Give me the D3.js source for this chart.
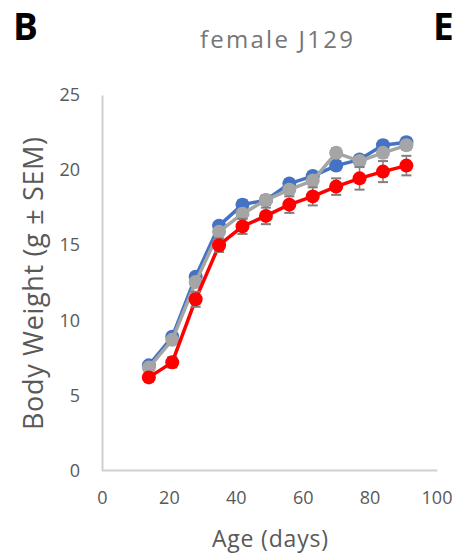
<!DOCTYPE html>
<html>
<head>
<meta charset="utf-8">
<script src="https://cdn.jsdelivr.net/npm/d3@7"></script>
<style>
  html, body { margin: 0; padding: 0; background: #fff; }
  svg { display: block; }
  text { font-family: "Open Sans", "Noto Sans", sans-serif; }
</style>
</head>
<body>
<svg id="chart" width="458" height="554"></svg>
<script>
// Age of measurement (days)
const days = [14, 21, 28, 35, 42, 49, 56, 63, 70, 77, 84, 91];

// Mean body weight per group (g)
const blueMean = [7.0, 8.9, 12.9, 16.3, 17.7, 18.0, 19.1, 19.6, 20.3, 20.7, 21.65, 21.85];
const grayMean = [6.85, 8.7, 12.55, 15.9, 17.1, 18.0, 18.7, 19.3, 21.15, 20.6, 21.15, 21.65];
const redMean  = [6.2, 7.2, 11.4, 15.0, 16.25, 16.95, 17.7, 18.25, 18.9, 19.45, 19.9, 20.3];

// Standard error of the mean per group (g)
const blueSem = [0.2, 0.2, 0.25, 0.25, 0.3, 0.3, 0.3, 0.3, 0.3, 0.3, 0.3, 0.3];
const graySem = [0.2, 0.2, 0.25, 0.25, 0.3, 0.3, 0.3, 0.3, 0.3, 0.3, 0.3, 0.3];
const redSem  = [0.25, 0.35, 0.5, 0.45, 0.5, 0.55, 0.55, 0.6, 0.55, 0.75, 0.7, 0.65];

// Axis ticks
const xTicks = [0, 20, 40, 60, 80, 100];
const yTicks = [0, 5, 10, 15, 20, 25];

const series = [
  { color: "#4472C4", mean: blueMean, sem: blueSem },
  { color: "#A5A5A5", mean: grayMean, sem: graySem },
  { color: "#FF0000", mean: redMean,  sem: redSem }
];

const svg = d3.select("#chart");

const x = d3.scaleLinear().domain([0, 100]).range([102, 436.5]);
const y = d3.scaleLinear().domain([0, 25]).range([470.5, 95]);

// Panel letters
svg.append("text").attr("x", 13).attr("y", 40)
  .attr("font-size", 37).attr("font-weight", 700).attr("fill", "#000").text("B");
svg.append("text").attr("x", 433).attr("y", 40)
  .attr("font-size", 37).attr("font-weight", 700).attr("fill", "#000").text("E");

// Title
svg.append("text").attr("x", 200).attr("y", 48)
  .attr("font-size", 24).attr("fill", "#767676")
  .attr("textLength", 153).attr("lengthAdjust", "spacing")
  .text("female J129");

// Axes
const xAxis = svg.append("g").attr("transform", `translate(0,${y(0)})`)
  .call(d3.axisBottom(x).tickValues(xTicks).tickSize(0).tickPadding(21));
const yAxis = svg.append("g").attr("transform", `translate(${x(0)},0)`)
  .call(d3.axisLeft(y).tickValues(yTicks).tickSize(0).tickPadding(22));

[xAxis, yAxis].forEach(g => {
  g.select(".domain").attr("stroke", "#D0D0D0").attr("stroke-width", 2);
  g.selectAll("text").attr("font-size", 18).attr("fill", "#595959")
    .attr("font-family", "'Open Sans', sans-serif");
});
xAxis.select(".domain").attr("d", `M${x(0)},0H437.5`);

// Axis titles
svg.append("text").attr("x", 212).attr("y", 547)
  .attr("font-size", 23).attr("fill", "#595959")
  .attr("textLength", 116).attr("lengthAdjust", "spacing")
  .text("Age (days)");
svg.append("text")
  .attr("transform", `translate(43,430) rotate(-90)`)
  .attr("font-size", 27).attr("fill", "#595959")
  .attr("textLength", 293).attr("lengthAdjust", "spacing")
  .text("Body Weight (g \u00B1 SEM)");

const line = d3.line().x((d, i) => x(days[i])).y(d => y(d));

series.forEach(s => {
  const g = svg.append("g");
  g.append("path").datum(s.mean)
    .attr("d", line).attr("fill", "none")
    .attr("stroke", s.color).attr("stroke-width", 3.5).attr("stroke-linejoin", "round");

  // Error bars (mean ± SEM)
  const eb = g.selectAll(".eb").data(s.mean).join("g");
  eb.append("line")
    .attr("x1", (d, i) => x(days[i])).attr("x2", (d, i) => x(days[i]))
    .attr("y1", (d, i) => y(d - s.sem[i])).attr("y2", (d, i) => y(d + s.sem[i]))
    .attr("stroke", "#7F7F7F").attr("stroke-width", 1.5);
  [-1, 1].forEach(sign => {
    eb.append("line")
      .attr("x1", (d, i) => x(days[i]) - 5).attr("x2", (d, i) => x(days[i]) + 5)
      .attr("y1", (d, i) => y(d + sign * s.sem[i]))
      .attr("y2", (d, i) => y(d + sign * s.sem[i]))
      .attr("stroke", "#7F7F7F").attr("stroke-width", 2);
  });

  g.selectAll("circle").data(s.mean).join("circle")
    .attr("cx", (d, i) => x(days[i])).attr("cy", d => y(d))
    .attr("r", 7).attr("fill", s.color);
});
</script>
</body>
</html>
